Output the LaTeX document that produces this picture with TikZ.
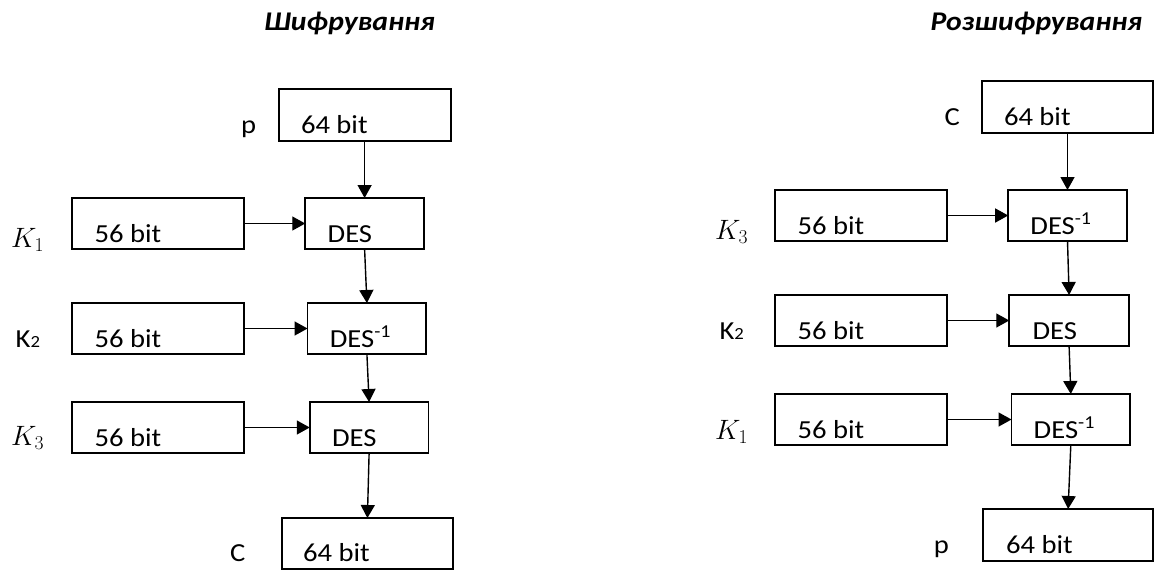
\documentclass[tikz,border=0pt]{standalone}
\usepackage{fix-cm}
\usepackage{fontspec}
\setmainfont{Carlito}[FakeStretch=1.1]
\usetikzlibrary{arrows.meta}
\tikzset{
  blk/.style={draw, line width=1.8pt, inner sep=0pt, outer sep=0pt, minimum height=51pt},
  txt/.style={anchor=base west, inner sep=0pt, font=\fontsize{26}{30}\selectfont},
  mlab/.style={anchor=base west, inner sep=0pt, font=\fontsize{28}{32}\selectfont},
  ttl/.style={anchor=base west, inner sep=0pt, font=\fontsize{27}{31}\selectfont\bfseries\itshape},
  arr/.style={line width=1.4pt, -{Triangle[length=13pt,width=14pt]}}
}
\newcommand{\desinv}{DES\textsuperscript{-1}}
\newcommand{\ktwo}{K{\fontsize{17}{17}\selectfont 2}}
\begin{document}
\begin{tikzpicture}[x=1pt,y=-1pt]
\useasboundingbox (0,0) rectangle (1155,570);
% ---------- left: encryption ----------
\node[ttl] (tl) at (264,30) {Шифрування};
\node[blk, minimum width=172pt, minimum height=52pt] (pl) at (364.6,115) {};
\node[blk, minimum width=118.7pt] (d1) at (364.6,223.5) {};
\node[blk, minimum width=172pt] (k1) at (158.2,223.5) {};
\node[blk, minimum width=118.7pt] (d2) at (366.9,328.5) {};
\node[blk, minimum width=172pt] (k2) at (158.2,328.5) {};
\node[blk, minimum width=118.7pt] (d3) at (369.1,427.5) {};
\node[blk, minimum width=172pt] (k3) at (158.2,427.5) {};
\node[blk, minimum width=171pt] (cl) at (367.4,543.5) {};
\node[txt] (plt) at (300.8,133) {64 bit};
\node[txt] (plb) at (240.9,133) {p};
\node[txt] (d1t) at (327.5,242) {DES};
\node[txt] (k1t) at (94.4,242) {56 bit};
\node[mlab] (k1l) at (11,247) {$K_1$};
\node[txt] (d2t) at (329.7,347) {\desinv};
\node[txt] (k2t) at (94.4,347) {56 bit};
\node[txt] (k2l) at (15.5,347) {\ktwo};
\node[txt] (d3t) at (331.9,446) {DES};
\node[txt] (k3t) at (94.4,446) {56 bit};
\node[mlab] (k3l) at (11,445) {$K_3$};
\node[txt] (clt) at (303,561) {64 bit};
\node[txt] (clb) at (229.8,561) {C};
\draw[arr] (pl.south) -- (d1.north);
\draw[arr] (d1.south) -- (d2.north);
\draw[arr] (d2.south) -- (d3.north);
\draw[arr] (d3.south) -- (cl.north);
\draw[arr] (k1.east) -- (d1.west);
\draw[arr] (k2.east) -- (d2.west);
\draw[arr] (k3.east) -- (d3.west);
% ---------- right: decryption ----------
\node[ttl] (tr) at (930.3,30) {Розшифрування};
\node[blk, minimum width=171.3pt, minimum height=52pt] (cr) at (1067.5,107) {};
\node[blk, minimum width=118.6pt] (r1) at (1067.5,215.5) {};
\node[blk, minimum width=171.3pt] (rk1) at (861,215.5) {};
\node[blk, minimum width=119.7pt] (r2) at (1069.1,320.5) {};
\node[blk, minimum width=171.3pt] (rk2) at (861,320.5) {};
\node[blk, minimum width=118.6pt] (r3) at (1070.8,419.5) {};
\node[blk, minimum width=171.3pt] (rk3) at (861,419.5) {};
\node[blk, minimum width=170.2pt, minimum height=52pt] (pr) at (1068.1,535) {};
\node[txt] (crt) at (1003.8,125) {64 bit};
\node[txt] (crb) at (944.5,125) {C};
\node[txt] (r1t) at (1030.2,234) {\desinv};
\node[txt] (rk1t) at (797.4,234) {56 bit};
\node[mlab] (rk1l) at (715,239) {$K_3$};
\node[txt] (r2t) at (1032.4,339) {DES};
\node[txt] (rk2t) at (797.4,339) {56 bit};
\node[txt] (rk2l) at (719.4,339) {\ktwo};
\node[txt] (r3t) at (1033.5,438) {\desinv};
\node[txt] (rk3t) at (797.4,438) {56 bit};
\node[mlab] (rk3l) at (715,439) {$K_1$};
\node[txt] (prt) at (1006,553) {64 bit};
\node[txt] (prb) at (933.6,553) {p};
\draw[arr] (cr.south) -- (r1.north);
\draw[arr] (r1.south) -- (r2.north);
\draw[arr] (r2.south) -- (r3.north);
\draw[arr] (r3.south) -- (pr.north);
\draw[arr] (rk1.east) -- (r1.west);
\draw[arr] (rk2.east) -- (r2.west);
\draw[arr] (rk3.east) -- (r3.west);
\end{tikzpicture}
\end{document}
